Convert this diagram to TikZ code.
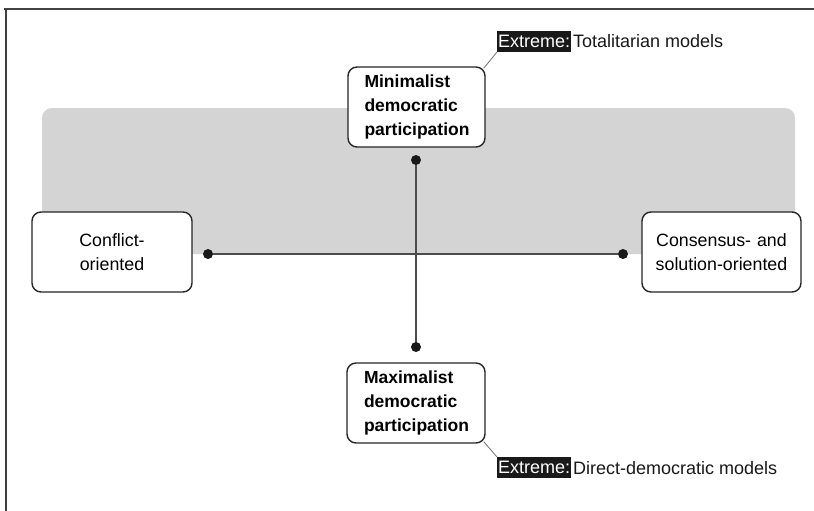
\documentclass[tikz,border=0pt]{standalone}
\usepackage{fontspec}
\setmainfont{Liberation Sans}
\begin{document}
\begin{tikzpicture}[x=1pt,y=-1pt,
  box/.style={draw=black!85, line width=1.4pt, rounded corners=9pt, fill=white,
    font=\fontsize{17.8}{24}\selectfont, inner sep=0pt, text width=#1},
  box/.default=104pt,
  axisdot/.style={circle, fill=black!90, inner sep=0pt, minimum size=10pt},
  axisline/.style={draw=black!70, line width=1.4pt},
  tag/.style={fill=black!90, text=white, font=\fontsize{18}{20}\selectfont,
    inner xsep=1pt, inner ysep=0pt, minimum height=21pt},
  tagtext/.style={font=\fontsize{18}{20}\selectfont, inner xsep=1.5pt, inner ysep=0pt, text=black!90},
  leader/.style={draw=black!55, line width=0.8pt}]
\useasboundingbox (0,0) rectangle (814,511);
\fill[white] (0,0) rectangle (814,511);

% outer frame (top and left edges)
\draw[black!75, line width=2pt] (4,9) -- (814,9);
\draw[black!75, line width=2pt] (6,8) -- (6,511);

% shaded band behind the upper half of the axes
\fill[black!17, rounded corners=10pt] (42,108) rectangle (795,254);

% axis end points
\node[axisdot] (ldot) at (208,254) {};
\node[axisdot] (rdot) at (623,254) {};
\node[axisdot] (tdot) at (416,160) {};
\node[axisdot] (bdot) at (416,347) {};

% axes
\draw[axisline] (ldot) -- (rdot);
\draw[axisline] (tdot) -- (bdot);

% pole boxes
\node[box, minimum width=137pt, minimum height=80pt, align=left, font=\bfseries\fontsize{17.5}{24}\selectfont]
  (top) at (416.5,107) {Minimalist\\democratic\\participation};
\node[box, minimum width=138pt, minimum height=80pt, align=left, font=\bfseries\fontsize{17.5}{24}\selectfont]
  (bottom) at (416,403) {Maximalist\\democratic\\participation};
\node[box=150pt, minimum width=160pt, minimum height=80pt, align=center]
  (left) at (112,252) {Conflict-\\oriented};
\node[box=150pt, minimum width=159pt, minimum height=80pt, align=center]
  (right) at (721.5,252) {Consensus- and\\solution-oriented};

% extremes
\node[tag, anchor=south west] (topx) at (497,52) {Extreme:};
\node[tagtext, anchor=west] (topxt) at (topx.east) {Totalitarian models};
\node[tag, anchor=north west] (botx) at (497,457) {Extreme:};
\node[tagtext, anchor=west] (botxt) at (botx.east) {Direct-democratic models};

\draw[leader] ([shift={(-2,2)}]top.north east) -- (topx.south west);
\draw[leader] ([shift={(-2,-2)}]bottom.south east) -- (botx.north west);
\end{tikzpicture}
\end{document}
